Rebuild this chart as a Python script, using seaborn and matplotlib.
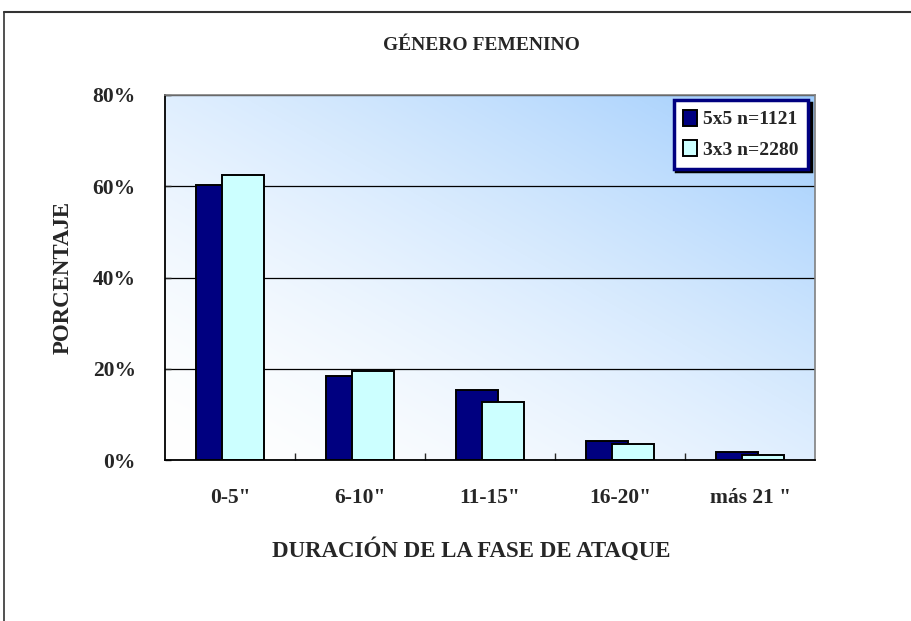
import numpy as np
import pandas as pd
import matplotlib
matplotlib.use("Agg")
import matplotlib.pyplot as plt
import seaborn as sns
from matplotlib.lines import Line2D

# Data
categorias = ['0-5"', '6-10"', '11-15"', '16-20"', 'más 21 "']
series = ["5x5 n=1121", "3x3 n=2280"]
pct_5x5 = [60.3, 18.4, 15.3, 4.2, 1.7]
pct_3x3 = [62.5, 19.5, 12.7, 3.4, 1.2]
yticks = [0, 20, 40, 60, 80]
ytick_labels = ["0%", "20%", "40%", "60%", "80%"]

df = pd.DataFrame({
    "cat": categorias * 2,
    "serie": [series[0]] * len(categorias) + [series[1]] * len(categorias),
    "pct": pct_5x5 + pct_3x3,
})

sns.set_style("white")
plt.rcParams["font.family"] = ["Liberation Serif", "DejaVu Serif"]
plt.rcParams["font.weight"] = "bold"

fig = plt.figure(figsize=(9.11, 6.21), dpi=100)
ax = fig.add_axes([165 / 911, 1 - 460 / 621, 650 / 911, 365 / 621])

sns.barplot(data=df, x="cat", y="pct", hue="serie", palette=["#000080", "#CCFFFF"],
            saturation=1, width=0.4, edgecolor="black", linewidth=1.4, ax=ax, zorder=2)

# Excel-style overlapping bars: widen each bar around its own centre
for cont in ax.containers:
    for bar in cont:
        c = bar.get_x() + bar.get_width() / 2
        bar.set_width(0.32)
        bar.set_x(c - 0.16)

# diagonal gradient background (white lower-left -> light blue upper-right)
g = np.linspace(0, 1, 256)
gx, gy = np.meshgrid(g, g[::-1])
t = (((gx + gy) / 2) ** 1.6)[..., None]
white = np.array([1.0, 1.0, 1.0])
blue = np.array([0.62, 0.80, 0.99])
ax.imshow(white + (blue - white) * t, extent=[0, 1, 0, 1], transform=ax.transAxes,
          aspect="auto", zorder=0)

ax.set_xlim(-0.5, len(categorias) - 0.5)
ax.set_ylim(0, 80)
ax.set_yticks(yticks)
ax.set_yticklabels(ytick_labels)
ax.set_xticks(range(len(categorias)))
ax.set_xticklabels(categorias)
ax.set_xticks(np.arange(0.5, len(categorias) - 1, 1), minor=True)
ax.set_xlabel("")
ax.set_ylabel("")
ax.yaxis.grid(True, color="black", linewidth=0.9, zorder=1)
ax.tick_params(axis="y", direction="in", length=4, left=True, pad=21, labelsize=15.5, width=1)
ax.tick_params(axis="x", which="major", length=0, pad=20, labelsize=15.5)
ax.tick_params(axis="x", which="minor", direction="in", length=5, bottom=True, width=1)
for lab in ax.get_xticklabels() + ax.get_yticklabels():
    lab.set_fontweight("bold")

for side in ["top", "right"]:
    ax.spines[side].set_color("#808080")
    ax.spines[side].set_linewidth(1.2)
for side in ["left", "bottom"]:
    ax.spines[side].set_color("black")
    ax.spines[side].set_linewidth(1.3)

handles, labels = ax.get_legend_handles_labels()
leg = ax.legend(handles, labels, loc="upper right", bbox_to_anchor=(808 / 911, 1 - 100 / 621),
                bbox_transform=fig.transFigure, frameon=True, fancybox=False,
                shadow={"facecolor": "black", "edgecolor": "black", "alpha": 1},
                prop={"size": 14, "weight": "bold"}, handlelength=0.7, handleheight=0.9,
                handletextpad=0.3, labelspacing=0.6, borderpad=0.5, borderaxespad=0)
leg.get_frame().set_facecolor("white")
leg.get_frame().set_edgecolor("#000080")
leg.get_frame().set_linewidth(2.5)
leg.set_zorder(5)

fig.text(481 / 911, 1 - 45 / 621, "GÉNERO FEMENINO", ha="center", va="center",
         fontsize=14, fontweight="bold")
fig.text(63 / 911, 1 - 277 / 621, "PORCENTAJE", ha="center", va="center",
         rotation=90, fontsize=16.5, fontweight="bold")
fig.text(471 / 911, 1 - 550 / 621, "DURACIÓN DE LA FASE DE ATAQUE", ha="center", va="center",
         fontsize=16.5, fontweight="bold")

# outer chart frame (left and top only)
fig.add_artist(Line2D([4 / 911, 4 / 911], [0, 1 - 12 / 621], transform=fig.transFigure,
                      color="#333333", linewidth=1.2))
fig.add_artist(Line2D([4 / 911, 1], [1 - 12 / 621, 1 - 12 / 621], transform=fig.transFigure,
                      color="#333333", linewidth=1.5))

fig.savefig("out.png", dpi=100)
